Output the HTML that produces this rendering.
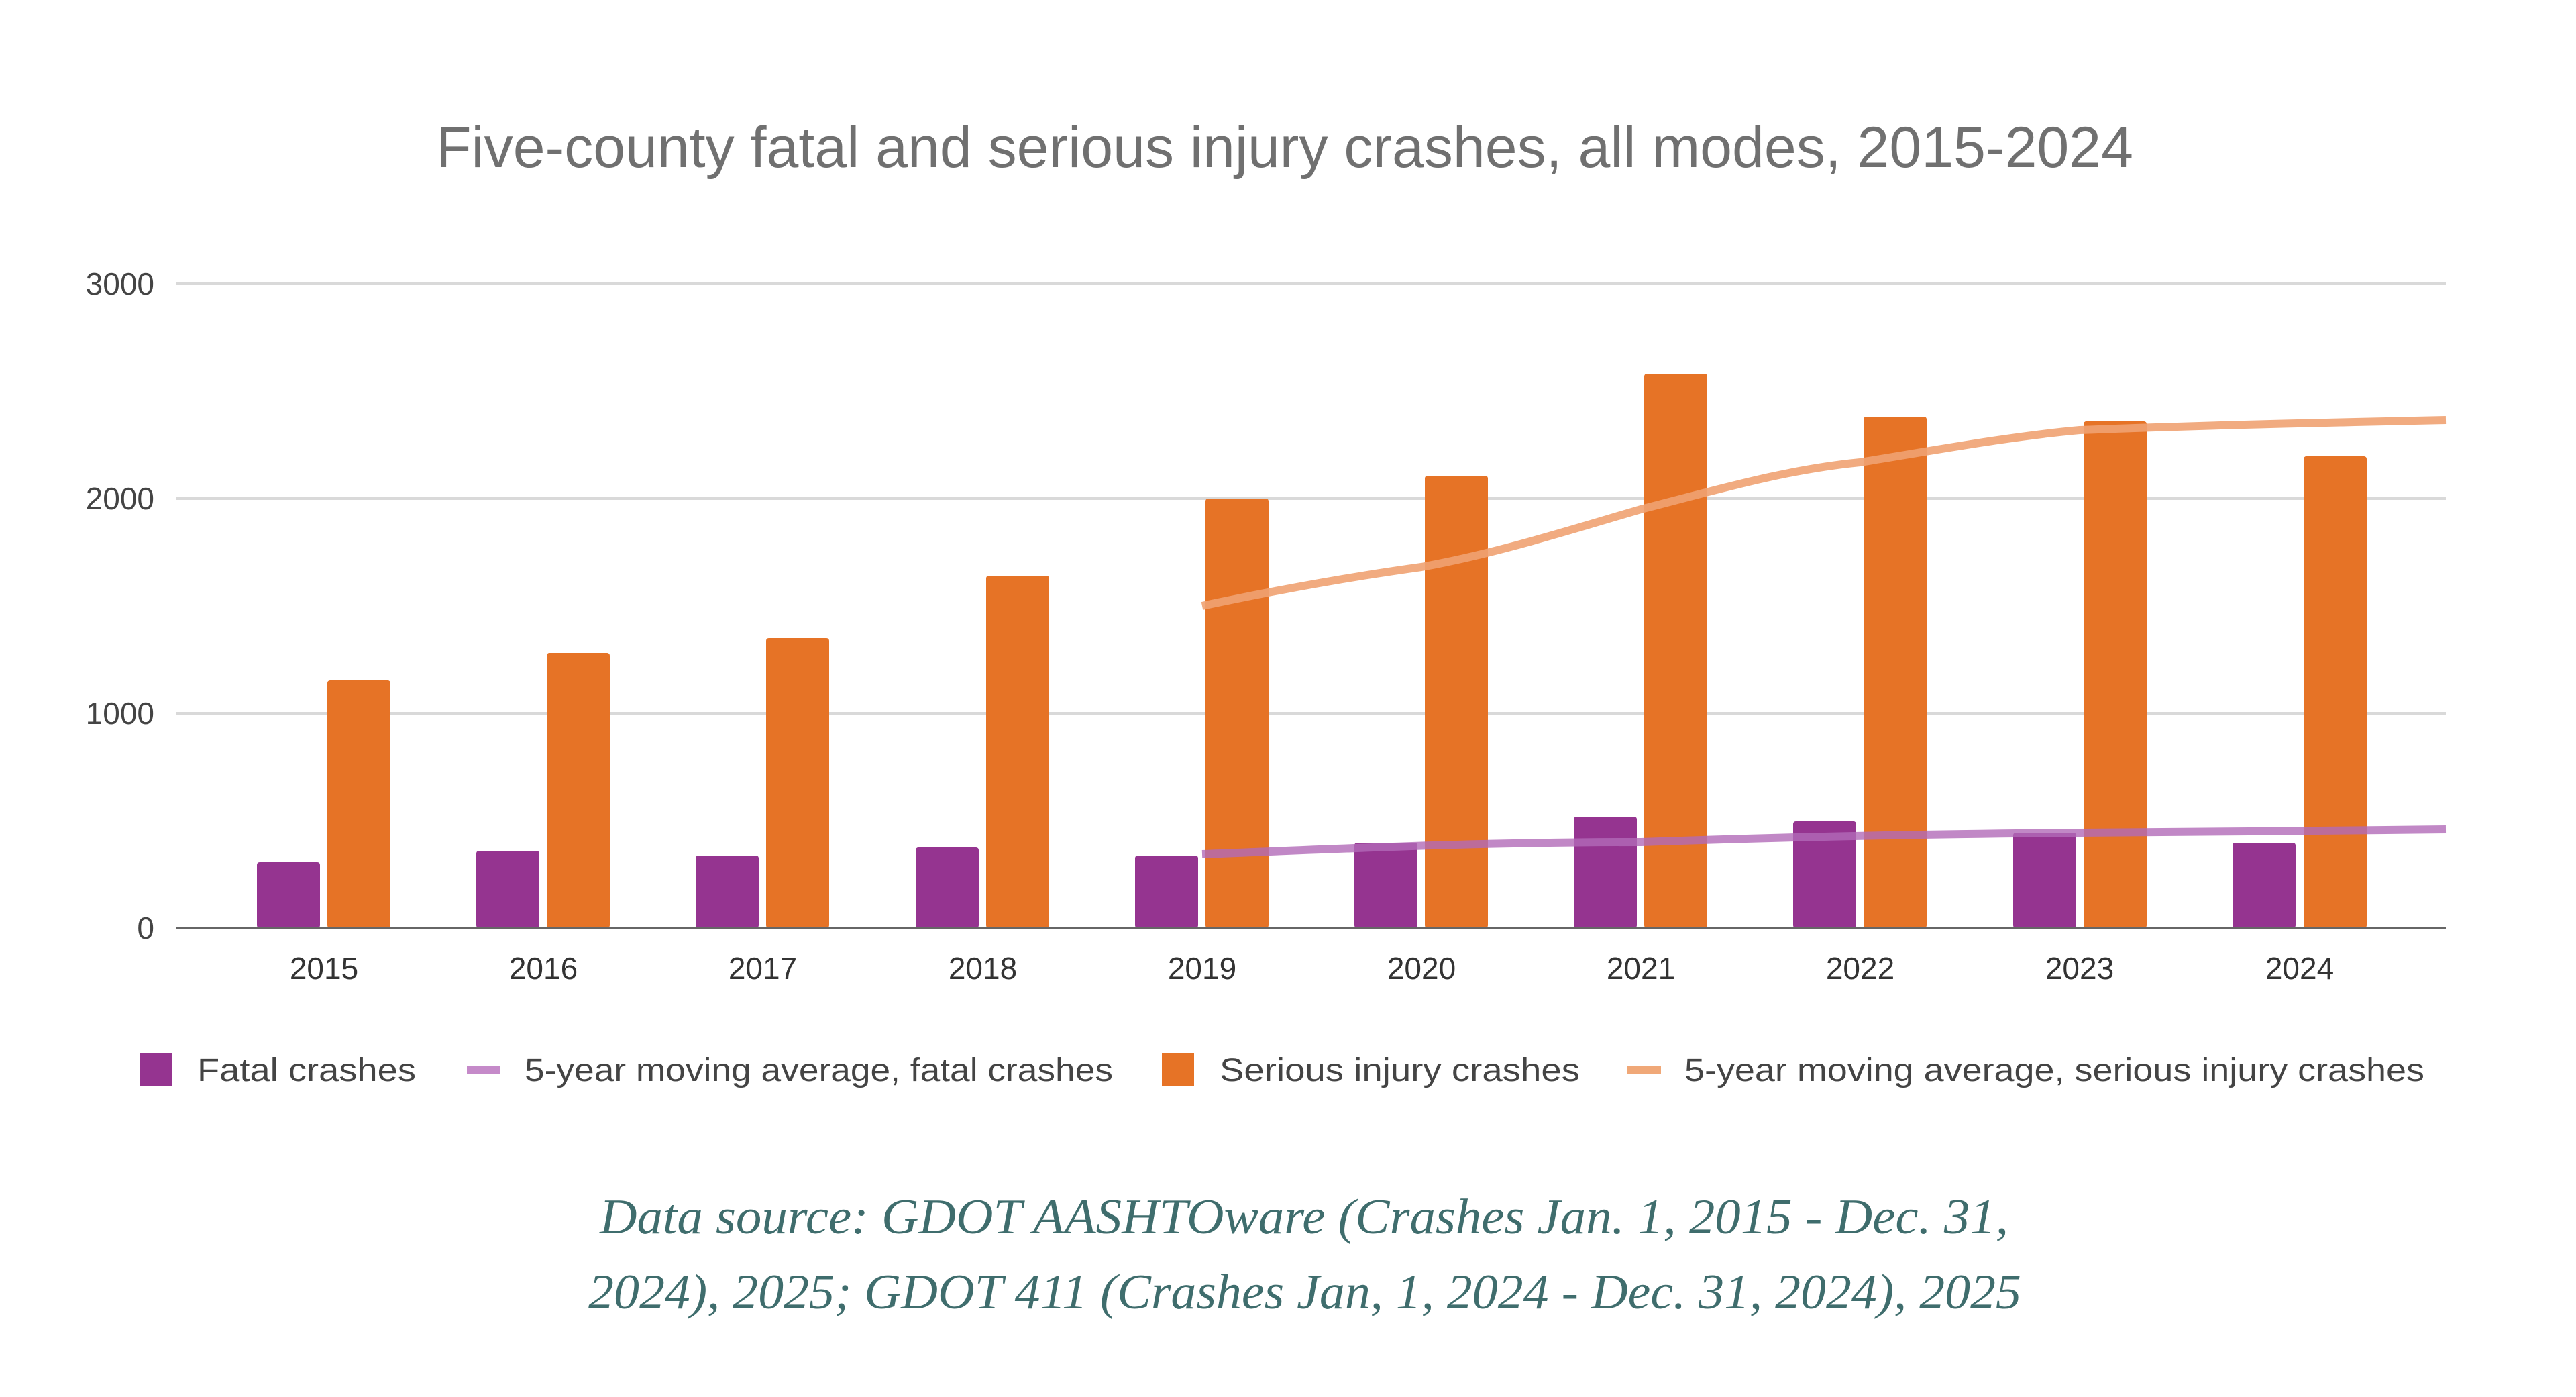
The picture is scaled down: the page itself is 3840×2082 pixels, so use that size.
<!DOCTYPE html>
<html><head><meta charset="utf-8"><style>
html,body{margin:0;padding:0;background:#fff;}
svg{display:block;}
</style></head><body>
<svg width="3840" height="2082" viewBox="0 0 3840 2082" xmlns="http://www.w3.org/2000/svg">
<rect width="3840" height="2082" fill="#fff"/>
<text x="1915" y="249" text-anchor="middle" font-family="Liberation Sans, sans-serif" font-size="86" fill="#707070" textLength="2530" lengthAdjust="spacingAndGlyphs">Five-county fatal and serious injury crashes, all modes, 2015-2024</text>
<g stroke="#d9d9d9" stroke-width="4">
<line x1="262" y1="423" x2="3646" y2="423"/>
<line x1="262" y1="743" x2="3646" y2="743"/>
<line x1="262" y1="1063" x2="3646" y2="1063"/>
</g>
<g font-family="Liberation Sans, sans-serif" font-size="46" fill="#444" text-anchor="end">
<text x="230" y="439">3000</text>
<text x="230" y="759">2000</text>
<text x="230" y="1079">1000</text>
<text x="230" y="1399">0</text>
</g>
<g id="bars"></g>
<g fill="#953490">
<rect x="383" y="1285" width="94" height="98" rx="4"/>
<rect x="710" y="1268" width="94" height="115" rx="4"/>
<rect x="1037" y="1275" width="94" height="108" rx="4"/>
<rect x="1365" y="1263" width="94" height="120" rx="4"/>
<rect x="1692" y="1275" width="94" height="108" rx="4"/>
<rect x="2019" y="1256" width="94" height="127" rx="4"/>
<rect x="2346" y="1217" width="94" height="166" rx="4"/>
<rect x="2673" y="1224" width="94" height="159" rx="4"/>
<rect x="3001" y="1073" width="94" height="310" rx="4" style="display:none"/>
<rect x="3001" y="1241" width="94" height="142" rx="4"/>
<rect x="3328" y="1256" width="94" height="127" rx="4"/>
</g>
<g fill="#e67326">
<rect x="488" y="1014" width="94" height="369" rx="4"/>
<rect x="815" y="973" width="94" height="410" rx="4"/>
<rect x="1142" y="951" width="94" height="432" rx="4"/>
<rect x="1470" y="858" width="94" height="525" rx="4"/>
<rect x="1797" y="743" width="94" height="640" rx="4"/>
<rect x="2124" y="709" width="94" height="674" rx="4"/>
<rect x="2451" y="557" width="94" height="826" rx="4"/>
<rect x="2778" y="621" width="94" height="762" rx="4"/>
<rect x="3106" y="628" width="94" height="755" rx="4"/>
<rect x="3434" y="680" width="94" height="703" rx="4"/>
</g>
<line x1="262" y1="1383" x2="3646" y2="1383" stroke="#666" stroke-width="4"/>
<path d="M1792,903 C1900,880 2010,860 2119,845 C2230,825 2340,790 2446,759 C2560,730 2660,700 2773,689 C2890,670 3000,650 3100,641 C3280,634 3460,630 3646,626" fill="none" stroke="#f0a272" stroke-opacity="0.9" stroke-width="12"/>
<path d="M1792,1273 C2000,1265 2200,1255 2446,1255 C2700,1246 2900,1243 3100,1241 C3300,1240 3450,1238 3646,1236" fill="none" stroke="#b26ab8" stroke-opacity="0.8" stroke-width="12"/>
<g font-family="Liberation Sans, sans-serif" font-size="46" fill="#333" text-anchor="middle">
<text x="483" y="1459">2015</text>
<text x="810" y="1459">2016</text>
<text x="1137" y="1459">2017</text>
<text x="1465" y="1459">2018</text>
<text x="1792" y="1459">2019</text>
<text x="2119" y="1459">2020</text>
<text x="2446" y="1459">2021</text>
<text x="2773" y="1459">2022</text>
<text x="3100" y="1459">2023</text>
<text x="3428" y="1459">2024</text>
</g>
<rect x="208" y="1570" width="48" height="48" fill="#953490"/>
<rect x="696" y="1589" width="50" height="12" fill="#c58ac9"/>
<rect x="1732" y="1570" width="48" height="48" fill="#e67326"/>
<rect x="2426" y="1589" width="50" height="12" fill="#f0a878"/>
<g font-family="Liberation Sans, sans-serif" font-size="48" fill="#444" lengthAdjust="spacingAndGlyphs">
<text x="294" y="1611" textLength="326" lengthAdjust="spacingAndGlyphs">Fatal crashes</text>
<text x="782" y="1611" textLength="877" lengthAdjust="spacingAndGlyphs">5-year moving average, fatal crashes</text>
<text x="1818" y="1611" textLength="537" lengthAdjust="spacingAndGlyphs">Serious injury crashes</text>
<text x="2511" y="1611" textLength="1103" lengthAdjust="spacingAndGlyphs">5-year moving average, serious injury crashes</text>
</g>
<g font-family="Liberation Serif, serif" font-style="italic" font-size="74" fill="#3f6d6d">
<text x="894" y="1838" textLength="2100" lengthAdjust="spacingAndGlyphs">Data source: GDOT AASHTOware (Crashes Jan. 1, 2015 - Dec. 31,</text>
<text x="877" y="1950" textLength="2136" lengthAdjust="spacingAndGlyphs">2024), 2025; GDOT 411 (Crashes Jan, 1, 2024 - Dec. 31, 2024), 2025</text>
</g>
</svg>
</body></html>
